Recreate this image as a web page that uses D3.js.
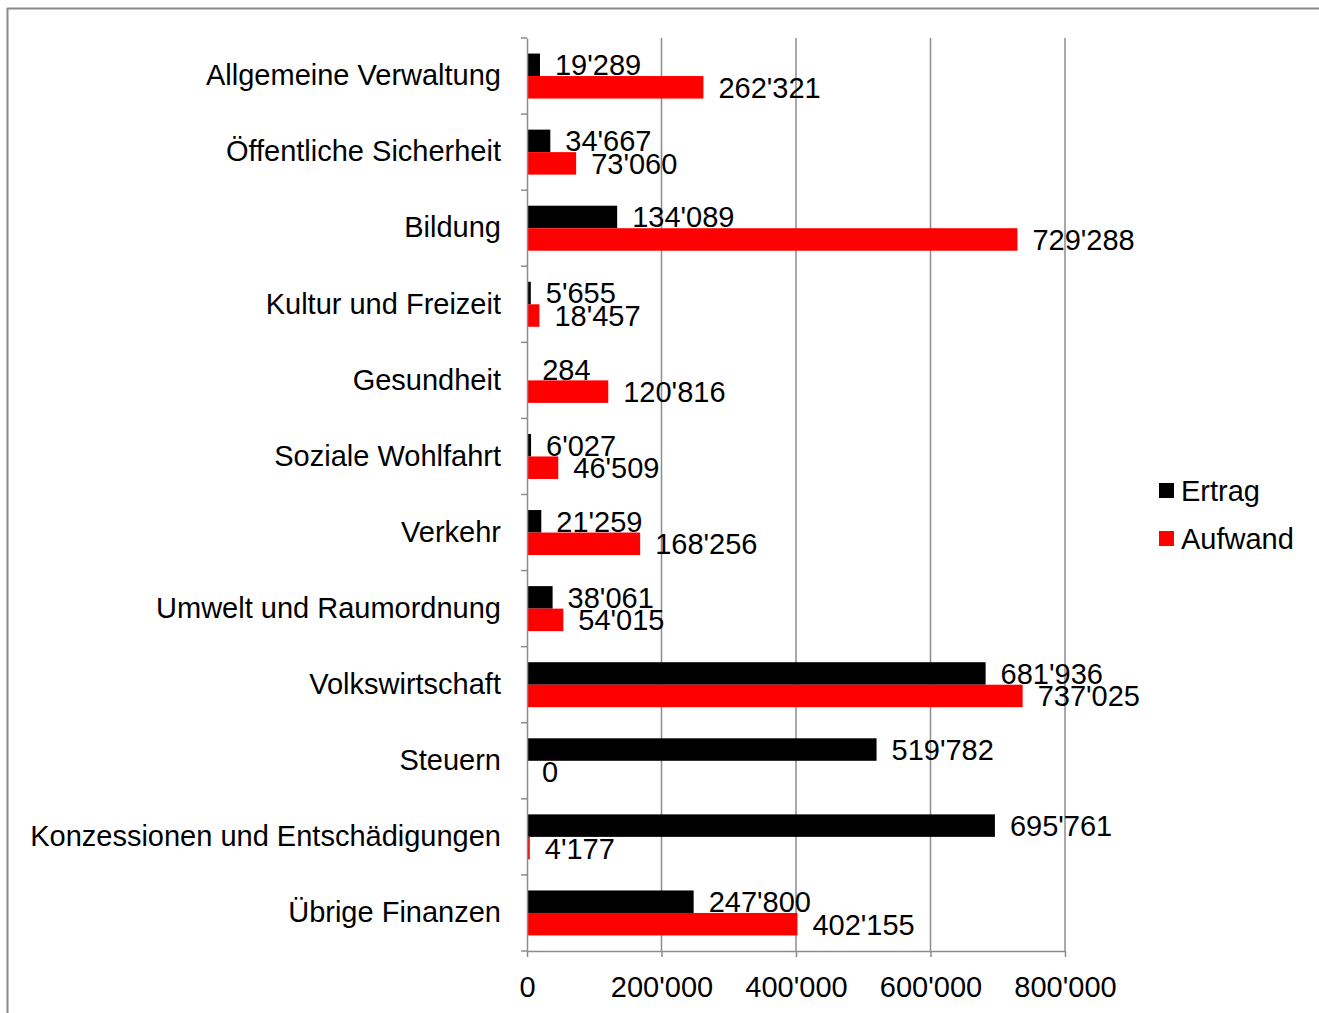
<!DOCTYPE html>
<html>
<head>
<meta charset="utf-8">
<script src="https://cdn.jsdelivr.net/npm/d3@7"></script>
<style>
  body { margin: 0; background: #fff; }
  text { font-family: "Liberation Sans", Arial, sans-serif; fill: #000; }
</style>
</head>
<body>
<svg id="chart" width="1319" height="1013"></svg>
<script>
// data
const categories = ["Allgemeine Verwaltung", "Öffentliche Sicherheit", "Bildung", "Kultur und Freizeit",
  "Gesundheit", "Soziale Wohlfahrt", "Verkehr", "Umwelt und Raumordnung", "Volkswirtschaft",
  "Steuern", "Konzessionen und Entschädigungen", "Übrige Finanzen"];
const ertrag = [19289, 34667, 134089, 5655, 284, 6027, 21259, 38061, 681936, 519782, 695761, 247800];
const aufwand = [262321, 73060, 729288, 18457, 120816, 46509, 168256, 54015, 737025, 0, 4177, 402155];
const seriesNames = ["Ertrag", "Aufwand"];
const seriesColors = ["#000000", "#ff0000"];
const xTicks = [0, 200000, 400000, 600000, 800000];

const margin = {top: 38, left: 527, right: 254, bottom: 62};
const width = 1319, height = 1013;
const plotW = 1065 - margin.left;
const plotH = 951 - margin.top;
const fs = 29;

const fmt = v => d3.format(",")(v).replace(/,/g, "'");

const svg = d3.select("#chart");

// outer frame (only top and left edges are visible)
svg.append("line").attr("x1", 7).attr("x2", width).attr("y1", 8.5).attr("y2", 8.5)
  .attr("stroke", "#888").attr("stroke-width", 2);
svg.append("line").attr("x1", 7.5).attr("x2", 7.5).attr("y1", 8).attr("y2", height)
  .attr("stroke", "#888").attr("stroke-width", 2);

const g = svg.append("g").attr("transform", `translate(${margin.left},${margin.top})`);

const x = d3.scaleLinear().domain([0, 800000]).range([0, plotW]);
const y = d3.scaleBand().domain(categories).range([0, plotH]);
const inner = d3.scaleBand().domain(seriesNames).range([0, 45]);
const barOffset = (y.bandwidth() - 45) / 2;

// gridlines
g.selectAll(".grid").data(xTicks.slice(1)).enter().append("line")
  .attr("x1", d => x(d)).attr("x2", d => x(d))
  .attr("y1", 0).attr("y2", plotH)
  .attr("stroke", "#8c8c8c").attr("stroke-width", 1.5);

const rows = categories.map((c, i) => ({cat: c, vals: [ertrag[i], aufwand[i]]}));

const grp = g.selectAll(".row").data(rows).enter().append("g")
  .attr("transform", d => `translate(0,${y(d.cat) + barOffset})`);

grp.selectAll("rect").data(d => d.vals.map((v, j) => ({v, s: seriesNames[j], c: seriesColors[j]})))
  .enter().append("rect")
  .attr("x", 0).attr("y", d => inner(d.s))
  .attr("width", d => x(d.v)).attr("height", inner.bandwidth())
  .attr("fill", d => d.c);

grp.selectAll(".lbl").data(d => d.vals.map((v, j) => ({v, s: seriesNames[j]})))
  .enter().append("text")
  .attr("x", d => x(d.v) + 15)
  .attr("y", d => inner(d.s) + inner.bandwidth() / 2)
  .attr("dy", "0.36em")
  .attr("font-size", fs)
  .text(d => fmt(d.v));

// y axis
const yAxis = g.append("g")
  .call(d3.axisLeft(y).tickSize(0).tickPadding(26));
yAxis.select(".domain").attr("stroke", "#8c8c8c").attr("stroke-width", 1.5);
yAxis.selectAll("text").attr("font-size", fs).attr("font-family", "Liberation Sans, Arial, sans-serif").attr("fill", "#000");
// category separator ticks
g.selectAll(".ytick").data(d3.range(categories.length + 1)).enter().append("line")
  .attr("x1", -6).attr("x2", 0)
  .attr("y1", i => i * y.step()).attr("y2", i => i * y.step())
  .attr("stroke", "#8c8c8c").attr("stroke-width", 1.5);

// x axis
const xAxis = g.append("g").attr("transform", `translate(0,${plotH})`)
  .call(d3.axisBottom(x).tickValues(xTicks).tickSize(6).tickSizeOuter(0).tickPadding(19).tickFormat(fmt));
xAxis.select(".domain").attr("stroke", "#8c8c8c").attr("stroke-width", 1.5);
xAxis.selectAll(".tick line").attr("stroke", "#8c8c8c").attr("stroke-width", 1.5);
xAxis.selectAll("text").attr("font-size", fs).attr("font-family", "Liberation Sans, Arial, sans-serif").attr("fill", "#000");

// legend
const legend = svg.append("g").attr("transform", "translate(1159,491)");
seriesNames.forEach((s, i) => {
  const lg = legend.append("g").attr("transform", `translate(0,${i * 48})`);
  lg.append("rect").attr("x", 0).attr("y", -8).attr("width", 15).attr("height", 15).attr("fill", seriesColors[i]);
  lg.append("text").attr("x", 22).attr("y", 0).attr("dy", "0.36em").attr("font-size", fs).text(s);
});
</script>
</body>
</html>
